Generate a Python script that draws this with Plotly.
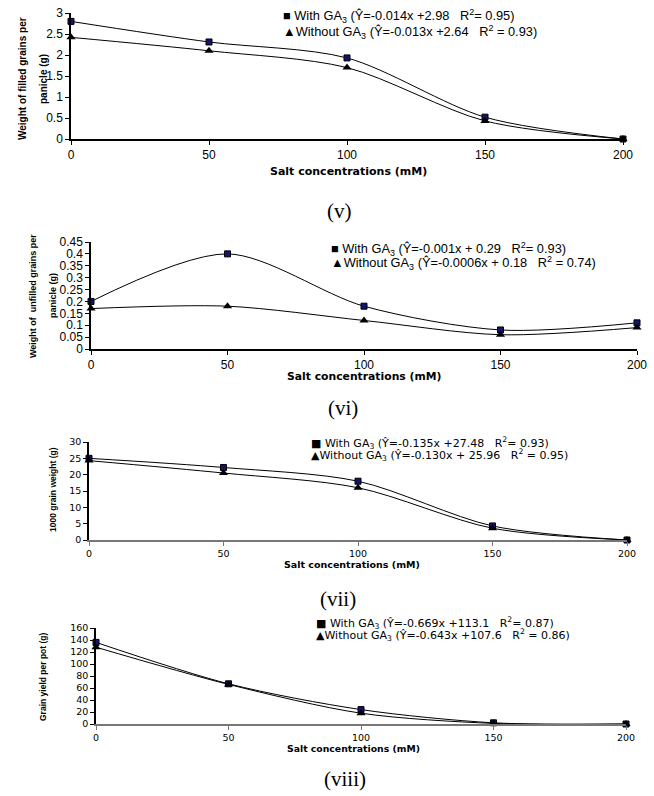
import plotly.graph_objects as go

W, H = 654, 796

salt = [0, 50, 100, 150, 200]
x_ticks = [0, 50, 100, 150, 200]

filled_with = [2.80, 2.31, 1.93, 0.52, 0.0]
filled_without = [2.42, 2.10, 1.70, 0.43, 0.0]

unfilled_with = [0.20, 0.40, 0.18, 0.08, 0.11]
unfilled_without = [0.17, 0.18, 0.12, 0.06, 0.09]

grain1000_with = [25.0, 22.2, 18.0, 4.3, 0.0]
grain1000_without = [24.3, 20.5, 16.0, 3.6, 0.0]

yield_with = [136, 67, 24, 2, 0]
yield_without = [128, 66, 18, 1, 0]

S = "\u00a0"
legend_texts = [
    ("With GA<sub>3</sub> (Ŷ=-0.014x +2.98" + S * 3 + "R<sup>2</sup>= 0.95)",
     "Without GA<sub>3</sub> (Ŷ=-0.013x +2.64" + S * 3 + "R<sup>2</sup> = 0.93)"),
    ("With GA<sub>3</sub> (Ŷ=-0.001x + 0.29" + S * 3 + "R<sup>2</sup>= 0.93)",
     "Without GA<sub>3</sub> (Ŷ=-0.0006x + 0.18" + S * 3 + "R<sup>2</sup> = 0.74)"),
    ("With GA<sub>3</sub> (Ŷ=-0.135x +27.48" + S * 3 + "R<sup>2</sup>= 0.93)",
     "Without GA<sub>3</sub> (Ŷ=-0.130x + 25.96" + S * 3 + "R<sup>2</sup> = 0.95)"),
    ("With GA<sub>3</sub> (Ŷ=-0.669x +113.1" + S * 3 + "R<sup>2</sup>= 0.87)",
     "Without GA<sub>3</sub> (Ŷ=-0.643x +107.6" + S * 3 + "R<sup>2</sup> = 0.86)"),
]
y_titles = [
    ["Weight of filled grains per", "panicle (g)"],
    ["Weight of" + S + S + "unfilled grains per", "panicle (g)"],
    ["1000 grain weight (g)"],
    ["Grain yield per pot (g)"],
]
panel_labels = ["(v)", "(vi)", "(vii)", "(viii)"]
x_title = "Salt concentrations (mM)"

ARIAL = "Liberation Sans"
WIDE = "DejaVu Sans"

# layout in pixels
panels = [
    dict(box=(71, 623, 13, 139), rng=[0, 3], dtick=0.5, tf=(ARIAL, 12), axc="black",
         leg=(281, 16, 32, ARIAL, 12.8), lab=(340, 211), xt=(348, 172, 11),
         yt=([22, 43], 79, 10)),
    dict(box=(91, 637, 242, 349), rng=[0, 0.45], dtick=0.05, tf=(ARIAL, 12), axc="black",
         leg=(329, 249, 263, ARIAL, 12.8), lab=(343, 408), xt=(364, 376, 10.8),
         yt=([33, 53], 296, 9)),
    dict(box=(89, 627, 442, 540), rng=[0, 30], dtick=5, tf=(WIDE, 9.5), axc="#777777",
         leg=(309, 443, 455, WIDE, 11), lab=(338, 599), xt=(352, 564, 9.5),
         yt=([53], 490, 8.5)),
    dict(box=(96, 626, 628, 724), rng=[0, 160], dtick=20, tf=(WIDE, 9.5), axc="#777777",
         leg=(314, 623, 635, WIDE, 11), lab=(345, 779), xt=(353, 748, 9.3),
         yt=([43], 677, 8.5)),
]
data = [
    (filled_with, filled_without),
    (unfilled_with, unfilled_without),
    (grain1000_with, grain1000_without),
    (yield_with, yield_without),
]

fig = go.Figure()
annotations = []


def ann(px, py, text, size, family=ARIAL, xanchor="center", angle=0):
    annotations.append(dict(x=px / W, y=1 - py / H, xref="paper", yref="paper",
                            xanchor=xanchor, yanchor="middle", showarrow=False,
                            text=text, textangle=angle,
                            font=dict(family=family, size=size, color="black")))


for i, (p, (dw, dwo)) in enumerate(zip(panels, data)):
    n = "" if i == 0 else str(i + 1)
    xa, ya = "x" + n, "y" + n
    fig.add_trace(go.Scatter(x=salt, y=dw, xaxis=xa, yaxis=ya, mode="lines+markers",
                             line=dict(color="black", width=1, shape="spline", smoothing=0.85),
                             marker=dict(symbol="square", size=6, color="#14146e",
                                         line=dict(color="black", width=1)),
                             showlegend=False, cliponaxis=False))
    fig.add_trace(go.Scatter(x=salt, y=dwo, xaxis=xa, yaxis=ya, mode="lines+markers",
                             line=dict(color="black", width=1, shape="spline", smoothing=0.85),
                             marker=dict(symbol="triangle-up", size=8, color="black"),
                             showlegend=False, cliponaxis=False))
    x0, x1, yt, yb = p["box"]
    tfam, tsize = p["tf"]
    fig.update_layout(**{
        "xaxis" + n: dict(domain=[x0 / W, x1 / W], range=[0, 200], anchor=ya,
                          tickvals=x_ticks, ticks="outside", ticklen=4, tickcolor=p["axc"],
                          showline=True, linecolor=p["axc"], linewidth=1.5,
                          showgrid=False, zeroline=False, automargin=False,
                          tickfont=dict(family=tfam, size=tsize, color="black")),
        "yaxis" + n: dict(domain=[1 - yb / H, 1 - yt / H], range=p["rng"], anchor=xa,
                          dtick=p["dtick"], tick0=0, ticks="outside", ticklen=4, tickcolor="black",
                          showline=True, linecolor="black", linewidth=1.5,
                          showgrid=False, zeroline=False, automargin=False,
                          tickfont=dict(family=tfam, size=tsize, color="black")),
    })
    lx, ly1, ly2, lfam, lf = p["leg"]
    ann(lx, ly1, "■ " + legend_texts[i][0], lf, family=lfam, xanchor="left")
    ann(lx, ly2, "▲" + legend_texts[i][1], lf, family=lfam, xanchor="left")
    cx, cy = p["lab"]
    ann(cx, cy, panel_labels[i], 21, family="Liberation Serif")
    tx, ty, tsz = p["xt"]
    ann(tx, ty, "<b>" + x_title + "</b>", tsz, family=WIDE)
    yxs, ycy, ysz = p["yt"]
    for line_x, line_text in zip(yxs, y_titles[i]):
        ann(line_x, ycy, "<b>" + line_text + "</b>", ysz, angle=-90)

fig.update_layout(width=W, height=H, margin=dict(l=0, r=0, t=0, b=0, autoexpand=False),
                  paper_bgcolor="white", plot_bgcolor="white",
                  annotations=annotations, showlegend=False)
fig.write_html("out.html", config={"displayModeBar": False},
               post_script="document.body.style.margin='0px';document.body.style.overflow='hidden';")
